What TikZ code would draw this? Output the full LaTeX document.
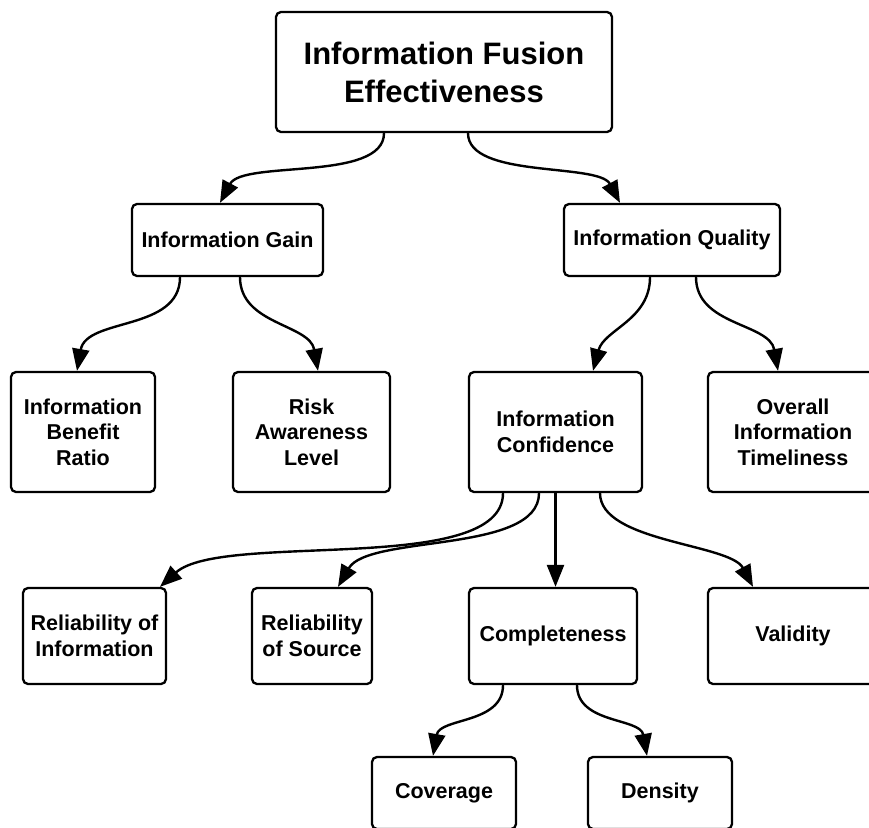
\documentclass[tikz,border=0pt]{standalone}
\usepackage{fontspec}
\setmainfont{Liberation Sans}
\usetikzlibrary{arrows.meta}
\begin{document}
\begin{tikzpicture}[x=1pt,y=-1pt,
  box/.style={draw=black, line width=2.3pt, rounded corners=5pt, fill=white,
    inner sep=0pt, align=center, font=\bfseries\fontsize{21.5}{25.5}\selectfont},
  bigbox/.style={box, font=\bfseries\fontsize{31}{38}\selectfont},
  link/.style={line width=2.4pt, -{Triangle[length=22pt 0 0,width=17pt 0 0]}},
  curve/.style={link, out=-90}]
\useasboundingbox (0,0) rectangle (869,827);
\fill[white] (0,0) rectangle (869,827);

\node[bigbox, minimum width=336pt, minimum height=120pt] (top) at (444,72) {Information Fusion\\Effectiveness};
\node[box, minimum width=191pt, minimum height=72pt] (gain) at (227.5,240) {Information Gain};
\node[box, minimum width=216pt, minimum height=72pt] (qual) at (672,240) {Information Quality};
\node[box, minimum width=144pt, minimum height=120pt] (ben) at (83,432) {Information\\Benefit\\Ratio};
\node[box, minimum width=157pt, minimum height=120pt] (risk) at (311.5,432) {Risk\\Awareness\\Level};
\node[box, minimum width=173pt, minimum height=120pt] (conf) at (555.5,432) {Information\\Confidence};
\node[box, minimum width=170pt, minimum height=120pt] (time) at (793,432) {Overall\\Information\\Timeliness};
\node[box, minimum width=143pt, minimum height=96pt] (relinf) at (94.5,636) {Reliability of\\Information};
\node[box, minimum width=120pt, minimum height=96pt] (relsrc) at (312,636) {Reliability\\of Source};
\node[box, minimum width=168pt, minimum height=96pt] (comp) at (553,636) {Completeness};
\node[box, minimum width=170pt, minimum height=96pt] (valid) at (793,636) {Validity};
\node[box, minimum width=144pt, minimum height=72pt] (cov) at (444,793) {Coverage};
\node[box, minimum width=144pt, minimum height=72pt] (dens) at (660,793) {Density};

\draw[curve, in=62, looseness=0.7] ([xshift=-60pt]top.south) to ([xshift=-7.5pt]gain.north);
\draw[curve, in=118, looseness=0.7] ([xshift=24pt]top.south) to ([xshift=-52pt]qual.north);
\draw[curve, in=80] ([xshift=-47.5pt]gain.south) to ([xshift=-6pt]ben.north);
\draw[curve, in=100] ([xshift=12.5pt]gain.south) to ([xshift=6.5pt]risk.north);
\draw[curve, in=75] ([xshift=-22pt]qual.south) to ([xshift=37.5pt]conf.north);
\draw[curve, in=100] ([xshift=24pt]qual.south) to ([xshift=-15pt]time.north);
\draw[curve, in=42, looseness=0.6] ([xshift=-52.5pt]conf.south) to ([xshift=65.5pt]relinf.north);
\draw[curve, in=60, looseness=0.7] ([xshift=-16.5pt]conf.south) to ([xshift=26pt]relsrc.north);
\draw[link] (conf.south) -- (conf.south |- comp.north);
\draw[curve, in=118, looseness=0.7] ([xshift=44.5pt]conf.south) to ([xshift=-40pt]valid.north);
\draw[curve, in=80] ([xshift=-50pt]comp.south) to ([xshift=-11pt]cov.north);
\draw[curve, in=100] ([xshift=24pt]comp.south) to ([xshift=-13pt]dens.north);
\end{tikzpicture}
\end{document}
